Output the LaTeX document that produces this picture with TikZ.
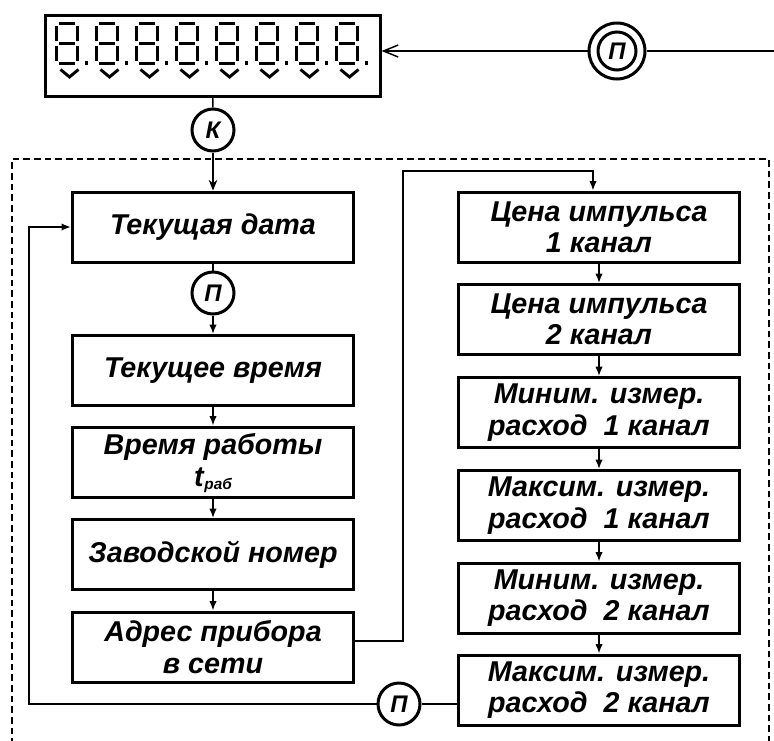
\documentclass[tikz,border=0pt]{standalone}
\usepackage{fontspec}
\setmainfont{Liberation Sans}
\usetikzlibrary{arrows.meta,calc}
\begin{document}
\begin{tikzpicture}[x=0.75pt,y=-0.75pt,
  box/.style={draw,line width=2.25pt,minimum width=211pt,minimum height=52.5pt,inner sep=0pt,align=center,
    font=\fontsize{21.5}{23.5}\selectfont\bfseries\itshape},
  btext/.style={inner sep=0pt,align=center,font=\fontsize{21.5}{23.5}\selectfont\bfseries\itshape},
  circ/.style={draw,circle,line width=2.25pt,minimum size=31.5pt,inner sep=0pt,
    font=\fontsize{18}{18}\selectfont\bfseries\itshape},
  conn/.style={line width=1.1pt},
  arr/.style={conn,-{Latex[length=7pt,width=5.5pt]}},
  arrk/.style={conn,-{Stealth[length=8pt,width=6.5pt]}},
  seg/.style={line width=2.2pt}]
\useasboundingbox (0,0) rectangle (774,740);

% display
\node[draw,line width=2.25pt,minimum width=251pt,minimum height=60.75pt,inner sep=0pt] (disp) at (212.75,56) {};
\foreach \i [evaluate=\i as \L using 56.5+40*\i] in {0,...,7}{
  \draw[seg] ({\L+2.5},23.5) -- ({\L+18.5},23.5);
  \draw[seg] (\L,26) -- (\L,41);
  \draw[seg] ({\L+21},26) -- ({\L+21},41);
  \draw[seg] ({\L+2.5},43.5) -- ({\L+18.5},43.5);
  \draw[seg] (\L,46) -- (\L,61);
  \draw[seg] ({\L+21},46) -- ({\L+21},61);
  \draw[seg] ({\L+2.5},63.5) -- ({\L+18.5},63.5);
  \fill ({\L+28},61) rectangle ({\L+31},65);
  \draw[seg] ({\L+4},69.5) -- ({\L+13},77) -- ({\L+22},69.5);
}

% top double circle
\node[draw,circle,line width=2.25pt,minimum size=42pt,inner sep=0pt] (p2) at (617,51) {};
\node[circ,minimum size=28.5pt] (p2i) at (p2) {П};
\coordinate (e) at (774,51);
\draw[conn] (e) -- (p2.east);
\draw[conn,-{Straight Barb[length=11pt,width=9pt]}] (p2.west) -- (disp.east |- p2.west);

% K circle
\node[circ] (k) at (213,130) {К};

% dashed frame
\draw[conn,dash pattern=on 5pt off 3pt] (12,745) -- (12,159) -- (769,159) -- (769,745);

% left column
\node[box] (date) at (213,227) {Текущая дата};
\node[circ] (p1) at (213,293) {П};
\node[box] (time) at (213,370.5) {Текущее время};
\node[box] (work) at (213,462) {};
\node[btext] (worktext) at (213,463.5) {Время работы\\[0pt]t\kern0.5pt\raisebox{-0.25ex}{\fontsize{11.5}{11.5}\selectfont раб}};
\node[box] (serial) at (213,554.5) {Заводской номер};
\node[box] (addr) at (213,647) {Адрес прибора\\в сети};

% right column
\node[box] (r1) at (599,227) {Цена импульса\\1 канал};
\node[box] (r2) at (599,319.5) {Цена импульса\\2 канал};
\node[box] (r3) at (599,412.5) {Миним. измер.\\расход~ 1 канал};
\node[box] (r4) at (599,505.5) {Максим. измер.\\расход~ 1 канал};
\node[box] (r5) at (599,598) {Миним. измер.\\расход~ 2 канал};
\node[box] (r6) at (599,690) {Максим. измер.\\расход~ 2 канал};

\node[circ] (p3) at (399,704) {П};

% connectors
\draw[conn] (disp.south) -- (k.north);
\draw[arrk] (k.south) -- (date.north);
\draw[conn] (date.south) -- (p1.north);
\draw[arr] (p1.south) -- (time.north);
\draw[arr] (time.south) -- (work.north);
\draw[arr] (work.south) -- (serial.north);
\draw[arr] (serial.south) -- (addr.north);

\coordinate (a1) at (403,641);
\coordinate (a2) at (593,171);
\draw[arr] (addr.east |- a1) -- (a1) |- (a2) -- (a2 |- r1.north);

\draw[arr] (r1.south) -- (r2.north);
\draw[arr] (r2.south) -- (r3.north);
\draw[arr] (r3.south) -- (r4.north);
\draw[arr] (r4.south) -- (r5.north);
\draw[arr] (r5.south) -- (r6.north);

\coordinate (b1) at (29,704);
\draw[conn] ([xshift=2pt]r6.west |- p3) -- (p3.east);
\draw[arr] (p3.west) -- (b1) |- (date.west);
\end{tikzpicture}
\end{document}
